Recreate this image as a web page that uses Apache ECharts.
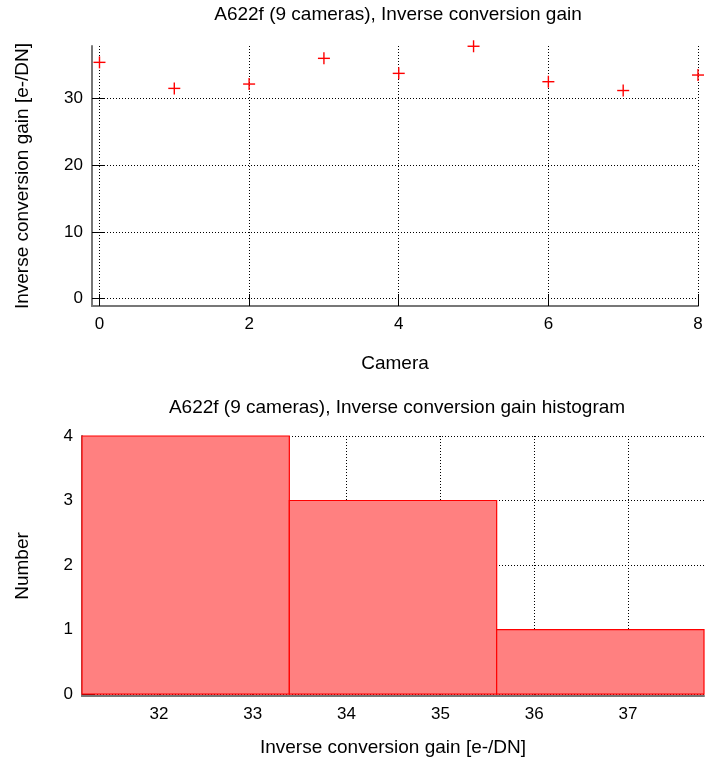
<!DOCTYPE html>
<html>
<head>
<meta charset="utf-8">
<script src="https://cdn.jsdelivr.net/npm/echarts@6/dist/echarts.min.js"></script>
<style>
  html, body { margin: 0; padding: 0; background: #fff; }
  #chart { width: 706px; height: 769px; }
</style>
</head>
<body>
<div id="chart"></div>
<script>
// Per-camera inverse conversion gain [e-/DN]
const cameras = [0, 1, 2, 3, 4, 5, 6, 7, 8];
const gainValues = [35.4, 31.5, 32.15, 36.0, 33.75, 37.81, 32.5, 31.18, 33.5];

// Histogram of the same quantity
const binEdges = [31.18, 33.39, 35.60, 37.81];
const binCounts = [4, 3, 1];

// Tick labels
const cameraTicks = [0, 2, 4, 6, 8];
const gainTicks = [0, 10, 20, 30];
const histXTicks = [32, 33, 34, 35, 36, 37];
const histYTicks = [0, 1, 2, 3, 4];

const FONT = '"Liberation Sans", Arial, sans-serif';
const gridLine = { show: true, lineStyle: { color: '#000', type: [1, 2], width: 1 } };
const axisLine = { show: true, onZero: false, lineStyle: { color: '#777', width: 2 } };
const labelStyle = { color: '#000', fontSize: 17, fontFamily: FONT };
const nameStyle = { color: '#000', fontSize: 19, fontFamily: FONT };
const titleStyle = { color: '#000', fontWeight: 'normal', fontSize: 19, fontFamily: FONT };

function ticks(values, show) {
  return { show: show !== false, inside: true, length: 12, customValues: values, lineStyle: { color: '#000', width: 1 } };
}
function labels(values, margin) {
  return Object.assign({ customValues: values, margin: margin }, labelStyle);
}

const scatterData = cameras.map((c, i) => [c, gainValues[i]]);
const histData = binCounts.map((n, i) => [binEdges[i], binEdges[i + 1], n]);

const chart = echarts.init(document.getElementById('chart'), null, { renderer: 'canvas' });
chart.setOption({
  backgroundColor: '#fff',
  animation: false,
  title: [
    { text: 'A622f (9 cameras), Inverse conversion gain', left: 393, top: 0, textAlign: 'center', textStyle: titleStyle },
    { text: 'A622f (9 cameras), Inverse conversion gain histogram', left: 392, top: 393, textAlign: 'center', textStyle: titleStyle }
  ],
  grid: [
    { left: 92, right: 8, top: 46, height: 260 },
    { left: 82, right: 2, top: 436, height: 260 }
  ],
  xAxis: [
    { type: 'value', gridIndex: 0, min: -0.1, max: 8,
      name: 'Camera', nameLocation: 'middle', nameGap: 48, nameTextStyle: nameStyle,
      axisLine: axisLine, axisTick: ticks(cameraTicks), axisLabel: labels(cameraTicks, 10),
      splitLine: gridLine },
    { type: 'value', gridIndex: 1, min: binEdges[0], max: binEdges[binEdges.length - 1],
      name: 'Inverse conversion gain [e-/DN]', nameLocation: 'middle', nameGap: 42, nameTextStyle: nameStyle,
      axisLine: axisLine, axisTick: ticks(histXTicks, false), axisLabel: labels(histXTicks, 10),
      splitLine: gridLine }
  ],
  yAxis: [
    { type: 'value', gridIndex: 0, min: -1.1, max: 37.85,
      name: 'Inverse conversion gain [e-/DN]', nameLocation: 'middle', nameGap: 60, nameTextStyle: nameStyle,
      axisLine: axisLine, axisTick: ticks(gainTicks), axisLabel: labels(gainTicks, 9),
      splitLine: gridLine },
    { type: 'value', gridIndex: 1, min: -0.03, max: 4,
      name: 'Number', nameLocation: 'middle', nameGap: 50, nameTextStyle: nameStyle,
      axisLine: axisLine, axisTick: ticks(histYTicks), axisLabel: labels(histYTicks, 9),
      splitLine: gridLine }
  ],
  series: [
    {
      type: 'custom', name: 'gain', xAxisIndex: 0, yAxisIndex: 0,
      data: scatterData, encode: { x: 0, y: 1 }, clip: false,
      renderItem: function (params, api) {
        const p = api.coord([api.value(0), api.value(1)]);
        const h = 6;
        const st = { stroke: '#ff0000', lineWidth: 1.4 };
        return { type: 'group', children: [
          { type: 'line', shape: { x1: p[0] - h, y1: p[1], x2: p[0] + h, y2: p[1] }, style: st },
          { type: 'line', shape: { x1: p[0], y1: p[1] - h, x2: p[0], y2: p[1] + h }, style: st }
        ] };
      }
    },
    {
      type: 'custom', name: 'histogram', xAxisIndex: 1, yAxisIndex: 1,
      data: histData, encode: { x: [0, 1], y: 2 },
      renderItem: function (params, api) {
        const p0 = api.coord([api.value(0), 0]);
        const p1 = api.coord([api.value(1), api.value(2)]);
        return {
          type: 'rect',
          shape: { x: p0[0], y: p1[1], width: p1[0] - p0[0], height: p0[1] - p1[1] },
          style: { fill: '#ff8080', stroke: '#ff0000', lineWidth: 1.2 }
        };
      }
    }
  ]
});
</script>
</body>
</html>
